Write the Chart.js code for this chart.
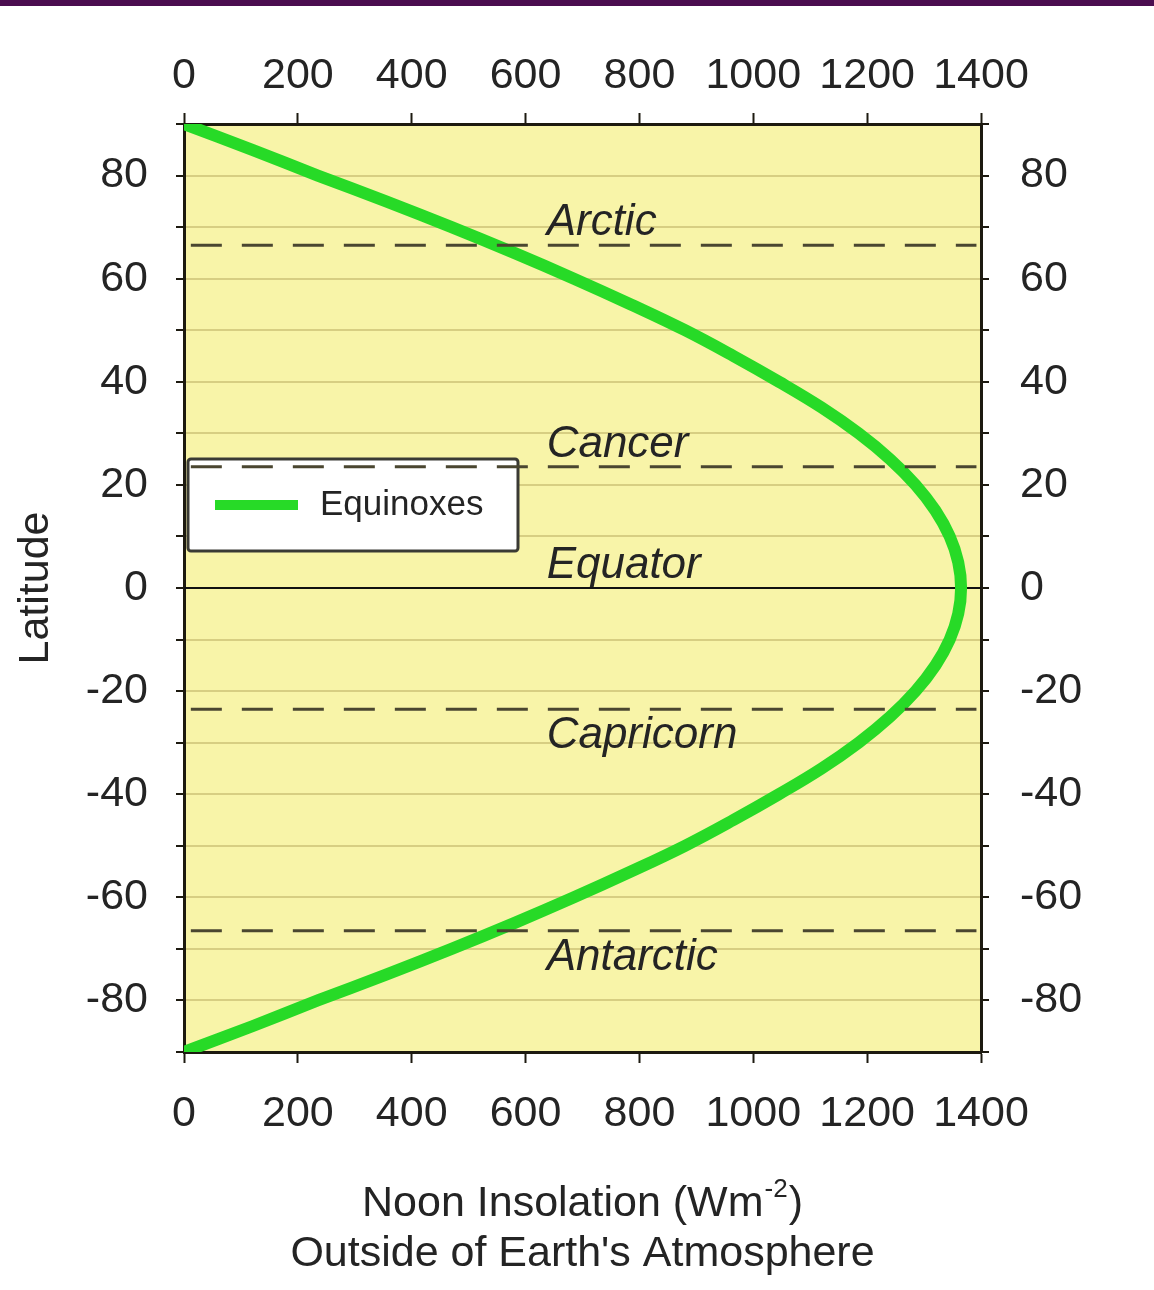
<!DOCTYPE html>
<html>
<head>
<meta charset="utf-8">
<title>Noon Insolation at the Equinoxes</title>
<script src="https://cdn.jsdelivr.net/npm/chart.js@4.4.1/dist/chart.umd.min.js"></script>
<style>
  html, body { margin: 0; padding: 0; background: #ffffff; }
  #wrap { position: relative; width: 1154px; height: 1290px; }
  #band { position: absolute; left: 0; top: 0; width: 1154px; height: 6px; background: #4b0d4f; }
  canvas { display: block; }
</style>
</head>
<body>
<div id="wrap">
  <canvas id="chart" width="1154" height="1290"></canvas>
  <div id="band"></div>
</div>
<script>
// Latitude (degrees) and noon insolation at the equinoxes (W m^-2)
const latitudes = [90, 85, 80, 75, 70, 65, 60, 55, 50, 45, 40, 35, 30, 25, 20, 15, 10, 5, 0,
                   -5, -10, -15, -20, -25, -30, -35, -40, -45, -50, -55, -60, -65, -70, -75, -80, -85, -90];
const insolation = [0, 120, 235, 355, 470, 580, 685, 785, 880, 965, 1045, 1120, 1185, 1240, 1285, 1320, 1345, 1360, 1365,
                    1360, 1345, 1320, 1285, 1240, 1185, 1120, 1045, 965, 880, 785, 685, 580, 470, 355, 235, 120, 0];
const seriesName = 'Equinoxes';

// Reference circles of latitude
const circleNames = ['Arctic', 'Cancer', 'Equator', 'Capricorn', 'Antarctic'];
const circleLats = [66.5, 23.5, 0, -23.5, -66.5];

// Axis ticks
const xTickValues = [0, 200, 400, 600, 800, 1000, 1200, 1400];
const yLabelValues = [-80, -60, -40, -20, 0, 20, 40, 60, 80];
const xRange = [0, 1400];
const yRange = [-90, 90];

const FONT = "'Liberation Sans', Arial, Helvetica, sans-serif";
const INK = '#242424';
const FRAME = '#1d1a10';

const curvePoints = latitudes.map((lat, i) => ({ x: insolation[i], y: lat }));

// Dashed tropic / polar circles and the solid equator, as two-point lines
const circleSets = circleLats.map((lat, i) => {
  const isEquator = lat === 0;
  return {
    label: circleNames[i],
    data: isEquator ? [{ x: xRange[0], y: lat }, { x: xRange[1], y: lat }]
                    : [{ x: 12, y: lat }, { x: 1392, y: lat }],
    borderColor: isEquator ? '#111111' : '#4a4630',
    borderWidth: isEquator ? 2 : 3,
    borderDash: isEquator ? [] : [31, 20],
    pointRadius: 0,
    tension: 0,
    order: isEquator ? 3 : 1
  };
});

const plotBackground = {
  id: 'plotBackground',
  beforeDraw(chart) {
    const { ctx, chartArea: a } = chart;
    ctx.save();
    ctx.fillStyle = '#f8f4a8';
    ctx.fillRect(a.left, a.top, a.right - a.left, a.bottom - a.top);
    ctx.restore();
  }
};

// Legend box sitting inside the plot, under the dashed circles
const insideLegend = {
  id: 'insideLegend',
  beforeDatasetsDraw(chart) {
    const { ctx, chartArea: a } = chart;
    const ds = chart.data.datasets[0];
    const left = a.left + 4, top = 459, w = 330, h = 92;
    ctx.save();
    ctx.fillStyle = '#ffffff';
    ctx.strokeStyle = '#3a3a34';
    ctx.lineWidth = 3;
    ctx.beginPath();
    ctx.roundRect(left, top, w, h, 3);
    ctx.fill();
    ctx.stroke();
    ctx.strokeStyle = ds.borderColor;
    ctx.lineWidth = 10;
    ctx.lineCap = 'butt';
    ctx.beginPath();
    ctx.moveTo(left + 27, top + 46);
    ctx.lineTo(left + 110, top + 46);
    ctx.stroke();
    ctx.fillStyle = INK;
    ctx.font = '35px ' + FONT;
    ctx.textAlign = 'left';
    ctx.textBaseline = 'alphabetic';
    ctx.fillText(ds.label, left + 132, top + 56);
    ctx.restore();
  }
};

// Italic names of the circles of latitude
const circleLabels = {
  id: 'circleLabels',
  afterDatasetsDraw(chart) {
    const { ctx } = chart;
    const xs = chart.scales.x, ys = chart.scales.y;
    ctx.save();
    ctx.fillStyle = INK;
    ctx.font = 'italic 44px ' + FONT;
    ctx.textAlign = 'left';
    ctx.textBaseline = 'alphabetic';
    const x = xs.getPixelForValue(637);
    circleNames.forEach((name, i) => {
      const lat = circleLats[i];
      const py = ys.getPixelForValue(lat);
      const base = lat >= 0 ? py - 10 : py + 39;
      ctx.fillText(name, x, base);
    });
    ctx.restore();
  }
};

// Axis titles, including the superscript unit
const axisTitles = {
  id: 'axisTitles',
  afterDraw(chart) {
    const { ctx, chartArea: a } = chart;
    const cx = (a.left + a.right) / 2;
    ctx.save();
    ctx.fillStyle = INK;
    ctx.textBaseline = 'alphabetic';

    // Latitude, rotated
    ctx.save();
    ctx.translate(48, (a.top + a.bottom) / 2);
    ctx.rotate(-Math.PI / 2);
    ctx.font = '43px ' + FONT;
    ctx.textAlign = 'center';
    ctx.fillText('Latitude', 0, 0);
    ctx.restore();

    // Noon Insolation (Wm^-2)
    const big = '43px ' + FONT, small = '26px ' + FONT;
    const p1 = 'Noon Insolation (Wm', sup = '-2', p3 = ')';
    ctx.font = big; const w1 = ctx.measureText(p1).width, w3 = ctx.measureText(p3).width;
    ctx.font = small; const w2 = ctx.measureText(sup).width;
    const total = w1 + w2 + 2 + w3;
    let x = cx - total / 2;
    const base1 = 1216;
    ctx.textAlign = 'left';
    ctx.font = big; ctx.fillText(p1, x, base1); x += w1 + 1;
    ctx.font = small; ctx.fillText(sup, x, base1 - 19); x += w2 + 1;
    ctx.font = big; ctx.fillText(p3, x, base1);

    ctx.textAlign = 'center';
    ctx.font = big;
    ctx.fillText("Outside of Earth's Atmosphere", cx, 1266);
    ctx.restore();
  }
};

function xScale(position, size, padding) {
  return {
    type: 'linear',
    position,
    min: xRange[0],
    max: xRange[1],
    afterBuildTicks(scale) { scale.ticks = xTickValues.map(v => ({ value: v })); },
    afterFit(scale) { scale.height = size; },
    ticks: {
      autoSkip: false,
      maxRotation: 0,
      padding,
      color: INK,
      font: { family: FONT, size: 43 },
      callback: v => String(v)
    },
    grid: { drawOnChartArea: false, drawTicks: true, tickLength: 11, tickColor: FRAME, tickWidth: 2 },
    border: { display: true, width: 3, color: FRAME }
  };
}

function yScale(position, size, padding) {
  return {
    type: 'linear',
    position,
    min: yRange[0],
    max: yRange[1],
    afterFit(scale) { scale.width = size; },
    ticks: {
      stepSize: 10,
      autoSkip: false,
      padding,
      color: INK,
      font: { family: FONT, size: 43 },
      callback: v => (yLabelValues.includes(v) ? String(v) : '')
    },
    grid: {
      drawOnChartArea: position === 'left',
      color: 'rgba(175,160,85,0.45)',
      lineWidth: 2,
      drawTicks: true,
      tickLength: 8,
      tickColor: FRAME,
      tickWidth: 2
    },
    border: { display: true, width: 3, color: FRAME }
  };
}

new Chart(document.getElementById('chart'), {
  type: 'line',
  data: {
    datasets: [
      {
        label: seriesName,
        data: curvePoints,
        borderColor: '#27da27',
        borderWidth: 12,
        pointRadius: 0,
        tension: 0.4,
        borderCapStyle: 'round',
        order: 2
      },
      ...circleSets
    ]
  },
  options: {
    responsive: false,
    animation: false,
    layout: { padding: 0 },
    plugins: {
      legend: { display: false },
      tooltip: { enabled: false },
      title: { display: false }
    },
    scales: {
      x: xScale('bottom', 238, 25),
      x2: xScale('top', 124, 11),
      y: yScale('left', 184, 28),
      y2: yScale('right', 173, 31)
    }
  },
  plugins: [plotBackground, insideLegend, circleLabels, axisTitles]
});
</script>
</body>
</html>
